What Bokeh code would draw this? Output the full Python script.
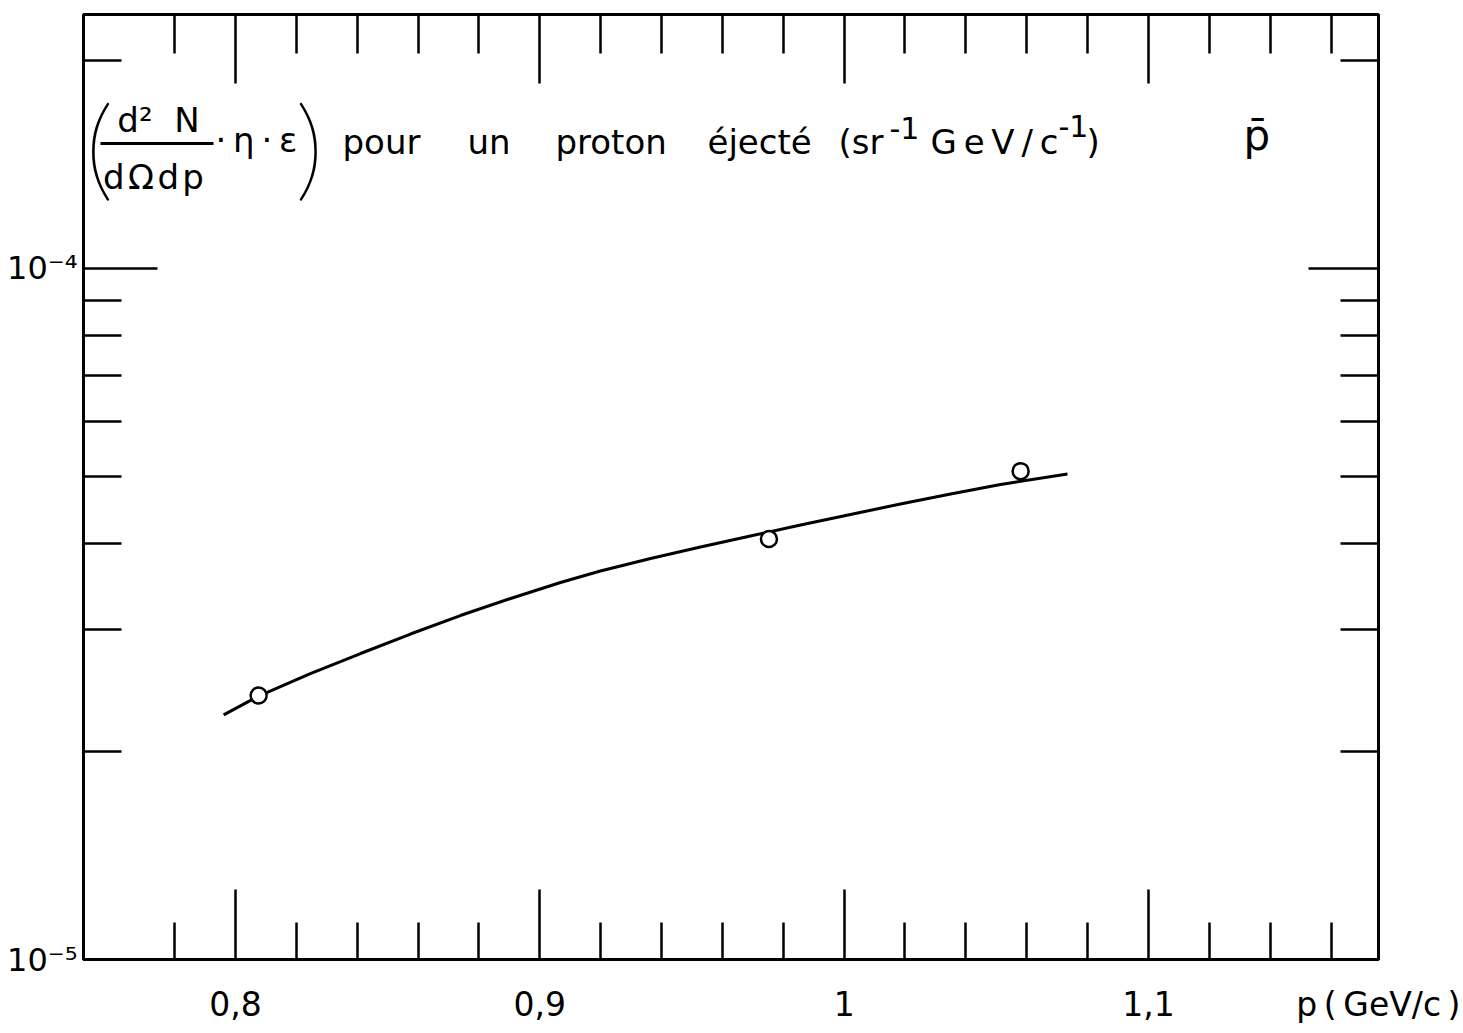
import math
from bokeh.plotting import figure
from bokeh.models import (Range1d, FixedTicker, LinearAxis, LogAxis,
                          CustomJSTickFormatter, Label, BoxAnnotation)
from bokeh.embed import file_html
from bokeh.resources import INLINE

# ---------------- data ----------------
p_points = [0.8076, 0.9753, 1.0580]            # GeV/c
yield_points = [2.41e-5, 4.06e-5, 5.09e-5]     # sr^-1 (GeV/c)^-1

p_curve = [0.7961, 0.8076, 0.8246, 0.8411, 0.8575, 0.8739, 0.8904, 0.9068,
           0.9199, 0.9364, 0.9528, 0.9692, 0.9857, 1.0021, 1.0185, 1.0350,
           1.0514, 1.0734]
yield_curve = [2.259e-5, 2.406e-5, 2.593e-5, 2.772e-5, 2.958e-5, 3.146e-5,
               3.330e-5, 3.512e-5, 3.650e-5, 3.805e-5, 3.954e-5, 4.101e-5,
               4.254e-5, 4.406e-5, 4.562e-5, 4.717e-5, 4.869e-5, 5.042e-5]

x_major = [0.8, 0.9, 1.0, 1.1]
x_minor = [0.78, 0.82, 0.84, 0.86, 0.88, 0.92, 0.94, 0.96, 0.98,
           1.02, 1.04, 1.06, 1.08, 1.12, 1.14, 1.16]
y_major = [1e-5, 1e-4]
y_minor = [2e-5, 3e-5, 4e-5, 5e-5, 6e-5, 7e-5, 8e-5, 9e-5, 2e-4]
x_title = "p\u2009(\u2009GeV/c\u2009)"

X0, X1 = 0.75005, 1.1756
Y0, Y1 = 1e-5, 2.331e-4

FONT = "DejaVu Sans"

# ---------------- figure ----------------
W, H = 1463, 1030
ML, MR, MT, MB = 83, 85, 14, 71
p = figure(width=W, height=H, output_backend="svg", toolbar_location=None,
           x_axis_type="linear", y_axis_type="log",
           x_range=Range1d(X0, X1), y_range=Range1d(Y0, Y1),
           min_border_left=ML, min_border_right=MR,
           min_border_top=MT, min_border_bottom=MB)
p.xgrid.visible = False
p.ygrid.visible = False
p.outline_line_color = "black"
p.outline_line_width = 3
p.background_fill_color = "white"
p.border_fill_color = "white"

FW = W - ML - MR
FH = H - MT - MB


def dx(px):
    return X0 + (px - ML) * (X1 - X0) / FW


def dy(py):
    lo, hi = math.log10(Y0), math.log10(Y1)
    return 10 ** (lo + (MT + FH - py) * (hi - lo) / FH)


# the axis title sits at the right end of the tick-label row
x_title_at = X1 - 0.00003
xfmt = CustomJSTickFormatter(args=dict(title=x_title), code="""
if (tick > 1.15) { return title; }
return tick.toFixed(1).replace('.', ',').replace(/,0$/, '');
""")
yfmt = CustomJSTickFormatter(code="""
const e = Math.round(Math.log10(tick));
const sup = {'-':'\u207b','0':'\u2070','1':'\u00b9','2':'\u00b2','3':'\u00b3',
             '4':'\u2074','5':'\u2075','6':'\u2076','7':'\u2077','8':'\u2078','9':'\u2079'};
return '10' + String(e).split('').map(c => sup[c]).join('');
""")
blank = CustomJSTickFormatter(code="return '';")


def style_axis(ax, major_len, minor_len):
    ax.axis_line_width = 3
    ax.axis_line_color = "black"
    ax.major_tick_in = major_len
    ax.major_tick_out = 0
    ax.minor_tick_in = minor_len
    ax.minor_tick_out = 0
    ax.major_tick_line_width = 2.5
    ax.minor_tick_line_width = 2.5
    ax.major_tick_line_color = "black"
    ax.minor_tick_line_color = "black"


# bottom axis
xb = p.xaxis[0]
xb.ticker = FixedTicker(ticks=x_major + [x_title_at], minor_ticks=x_minor)
xb.formatter = xfmt
style_axis(xb, 70, 37)
xb.major_label_text_font = FONT
xb.major_label_text_font_size = "33px"
xb.major_label_text_color = "black"
xb.major_label_standoff = 25

# left axis
yl = p.yaxis[0]
yl.ticker = FixedTicker(ticks=y_major, minor_ticks=y_minor)
yl.formatter = yfmt
style_axis(yl, 74, 38)
yl.major_label_text_font = FONT
yl.major_label_text_font_size = "32px"
yl.major_label_text_color = "black"
yl.major_label_standoff = 6

# top axis
xt = LinearAxis(ticker=FixedTicker(ticks=x_major, minor_ticks=x_minor),
                formatter=blank)
style_axis(xt, 69, 39)
p.add_layout(xt, "above")

# right axis
yr = LogAxis(ticker=FixedTicker(ticks=y_major, minor_ticks=y_minor),
             formatter=blank)
style_axis(yr, 70, 38)
p.add_layout(yr, "right")

# ---------------- curve and points ----------------
p.line(p_curve, yield_curve, line_color="black", line_width=3)
p.scatter(p_points, yield_points, marker="circle", size=16,
          line_color="black", line_width=2.5, fill_color="white")

# ---------------- texts ----------------


def lab(text, px, py, size, align="left", baseline="alphabetic", font=FONT):
    p.add_layout(Label(x=dx(px), y=dy(py), text=text, text_font=font,
                       text_font_size=f"{size}px", text_align=align,
                       text_baseline=baseline, text_color="black"))


lab("(", 99, 143, 112, align="center", baseline="middle", font="Lato Thin")
lab("d\u00b2\u00a0\u00a0N", 158, 119, 34, align="center")
p.add_layout(BoxAnnotation(left=dx(100), right=dx(213), top=dy(141.5),
                           bottom=dy(144.5), fill_color="black", fill_alpha=1,
                           line_color=None))
lab("d\u200a\u03a9\u200ad\u200ap", 153, 176, 34, align="center")
lab("\u00b7\u2009\u03b7\u2009\u00b7\u2009\u03b5", 215, 139, 34)
lab(")", 309, 143, 112, align="center", baseline="middle", font="Lato Thin")

words = ["pour", "un", "proton", "\u00e9ject\u00e9", "(sr"]
word_px = [342, 467, 555, 707, 838]
for w, xp in zip(words, word_px):
    lab(w, xp, 141, 34)
lab("-1", 889, 127, 30)
lab("G\u2009e\u2009V\u2009/\u2009c", 930, 141, 34)
lab("-1", 1058, 125, 30)
lab(")", 1086, 141, 34)

lab("p\u0304", 1243, 135, 42)

open("out.html", "w").write(file_html(p, INLINE))
